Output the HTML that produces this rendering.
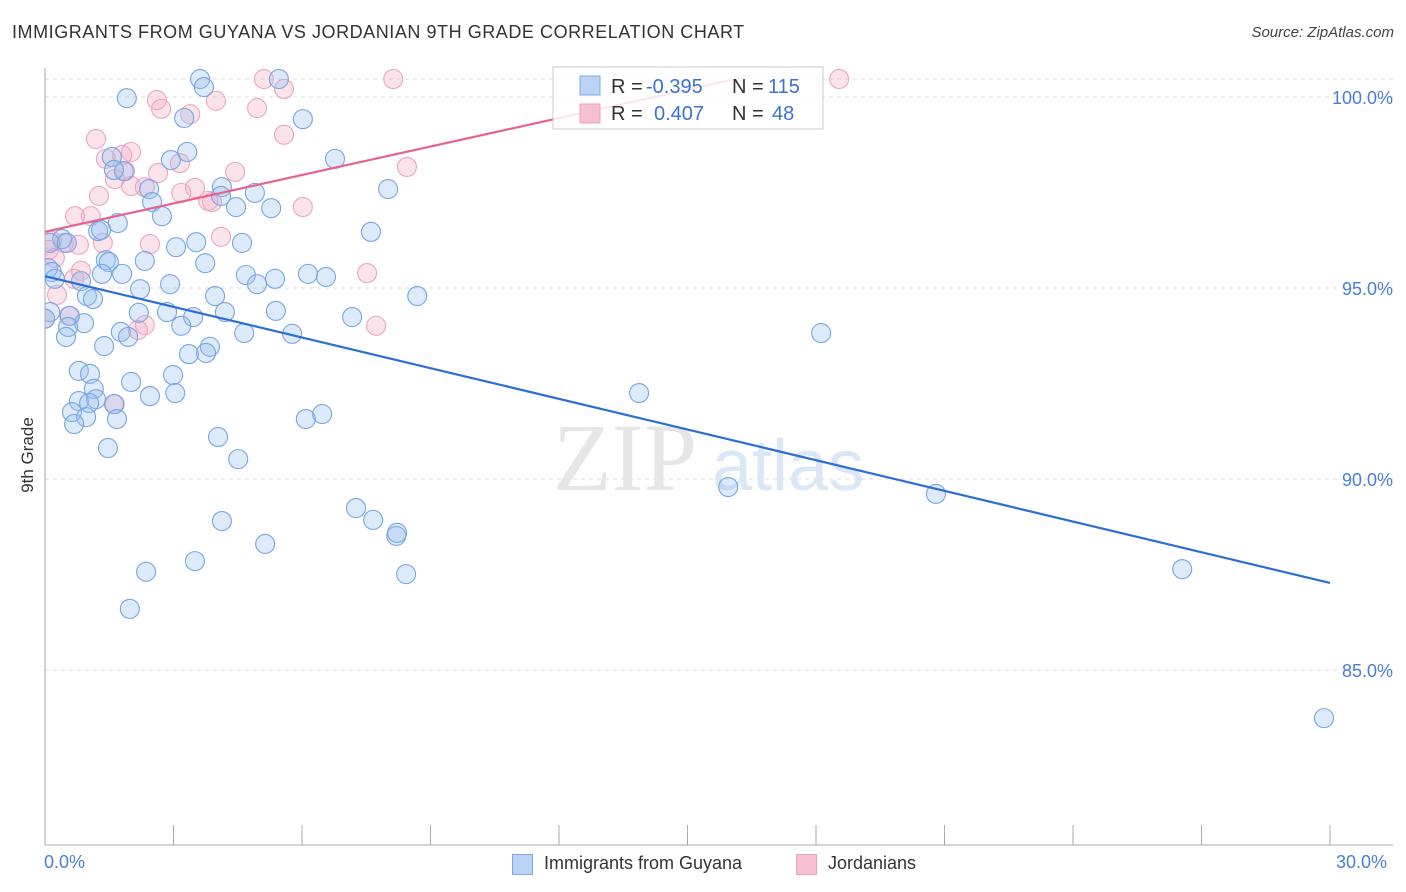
<!DOCTYPE html>
<html><head><meta charset="utf-8">
<style>
body{margin:0;background:#fff;font-family:"Liberation Sans",sans-serif;}
#wrap{position:relative;width:1406px;height:892px;overflow:hidden;}
.t{position:absolute;white-space:nowrap;}
</style></head>
<body>
<div id="wrap">
<div class="t" style="left:12px;top:22px;font-size:18px;color:#333;letter-spacing:0.55px">IMMIGRANTS FROM GUYANA VS JORDANIAN 9TH GRADE CORRELATION CHART</div>
<div class="t" style="right:12px;top:24px;font-size:15px;color:#444;font-style:italic">Source: ZipAtlas.com</div>
<div class="t" style="left:-10px;top:445px;font-size:17px;color:#333;transform:rotate(-90deg);transform-origin:center">9th Grade</div>
<svg id="svg" width="1406" height="892" style="position:absolute;left:0;top:0"></svg>
</div>
<script>
const xTicksPct=[0,3,6,9,12,15,18,21,24,27,30];
const yTicks=[85,90,95,100];
const yTickLabels=["85.0%","90.0%","95.0%","100.0%"];
const blueX=[3.62,3.71,5.46,1.91,3.25,6.02,3.32,6.77,1.56,2.94,1.84,1.61,2.43,4.13,8.01,4.90,2.50,4.11,4.46,5.28,2.73,1.70,1.24,1.31,7.61,0.40,0.12,3.06,3.53,4.60,0.51,2.33,1.42,1.49,3.74,4.69,5.37,6.14,6.56,4.95,0.07,0.16,0.23,0.84,1.33,1.80,2.92,2.22,0.98,1.12,3.97,8.69,2.19,2.85,3.46,4.20,5.39,7.17,0.12,0.58,0.91,0.54,3.18,1.77,1.94,0.49,4.65,5.77,18.12,1.38,3.85,3.36,3.76,0.79,1.05,2.99,2.01,1.14,1.19,0.79,1.03,1.61,2.45,3.04,13.87,0.63,0.96,0.68,1.68,6.09,6.47,1.47,4.04,4.51,15.95,20.80,7.26,7.66,4.13,8.20,8.22,5.14,3.50,2.36,8.43,26.55,1.98,29.86,0.0];
const blueY=[100.47,100.26,100.47,99.97,99.45,99.42,98.56,98.38,98.43,98.35,98.06,98.09,97.59,97.64,97.59,97.49,97.25,97.41,97.12,97.09,96.88,96.70,96.49,96.52,96.47,96.28,96.18,96.07,96.20,96.18,96.18,95.71,95.73,95.68,95.65,95.34,95.24,95.37,95.29,95.10,95.52,95.42,95.24,95.18,95.37,95.37,95.10,94.97,94.79,94.71,94.79,94.79,94.35,94.37,94.24,94.37,94.40,94.24,94.37,94.27,94.08,93.98,94.01,93.85,93.72,93.72,93.82,93.80,93.82,93.48,93.46,93.27,93.30,92.83,92.75,92.72,92.54,92.36,92.09,92.04,91.99,91.96,92.17,92.25,92.25,91.75,91.62,91.44,91.57,91.57,91.70,90.81,91.10,90.52,89.79,89.61,89.24,88.93,88.90,88.51,88.59,88.30,87.85,87.57,87.51,87.64,86.60,83.74,94.2];
const pinkX=[8.13,5.11,18.54,5.58,2.61,2.71,3.99,4.95,3.39,1.19,5.58,1.42,2.01,1.80,3.15,8.45,1.63,1.87,2.64,4.44,1.26,2.01,2.33,3.18,3.50,3.90,3.81,6.02,0.70,1.07,4.11,0.16,0.44,1.35,2.45,0.79,0.09,0.23,0.84,7.52,0.68,0.28,0.56,7.73,2.33,2.17,1.63,0.0];
const pinkY=[100.47,100.47,100.47,100.21,99.92,99.69,99.90,99.71,99.55,98.90,99.01,98.38,98.56,98.48,98.27,98.17,97.85,98.06,98.01,98.04,97.41,97.67,97.64,97.49,97.62,97.25,97.28,97.12,96.88,96.88,96.34,96.23,96.18,96.18,96.15,96.13,96.0,95.79,95.45,95.39,95.24,94.82,94.27,94.01,94.03,93.90,91.96,94.19];
const blueLine=[[0,95.31],[30,87.28]];
const pinkLine=[[0,96.47],[16.2,100.49]];

const X0=45,X1=1330,Y0=845,YTOP=68;
const sx=v=>X0+(v/30)*(X1-X0);
const sy=v=>97+(100-v)*38.2;
const svg=document.getElementById('svg');
const NS='http://www.w3.org/2000/svg';
function mk(tag,attrs,parent){const e=document.createElementNS(NS,tag);for(const k in attrs)e.setAttribute(k,attrs[k]);(parent||svg).appendChild(e);return e;}
const defs=mk('defs',{});
const cp=mk('clipPath',{id:'clip'},defs);
mk('rect',{x:X0,y:YTOP,width:1393-X0,height:Y0-YTOP},cp);

[...yTicks,100.47].forEach(v=>{
  const g=mk('line',{x1:X0,x2:1393,y1:sy(v),y2:sy(v),stroke:'#dcdcdc','stroke-dasharray':'4,4','stroke-width':1});
  
  
});
yTicks.forEach((v,i)=>{
  const t=mk('text',{x:1393,y:sy(v)+7,'text-anchor':'end','font-size':18,fill:'#4a7fd4','font-family':'Liberation Sans'});
  t.textContent=yTickLabels[i];
  
  
});
const ax=mk('line',{x1:X0,x2:1393,y1:Y0,y2:Y0,stroke:'#aaa','stroke-width':1});


const ay=mk('line',{x1:X0,x2:X0,y1:YTOP,y2:Y0,stroke:'#aaa','stroke-width':1});


xTicksPct.forEach(v=>{
  const t=mk('line',{x1:sx(v),x2:sx(v),y1:Y0,y2:Y0-20,stroke:'#aaa','stroke-width':1});
  
  
});
const wm=mk('text',{x:553,y:490,'font-size':96,fill:'#e6e6e6','font-family':'Liberation Serif'});
wm.textContent='ZIP';


const wm2=mk('text',{x:712,y:490,'font-size':72,fill:'#dbe7f6','font-family':'Liberation Sans'});
wm2.textContent='atlas';



const g=mk('g',{'clip-path':'url(#clip)'});
pinkX.forEach((x,i)=>{
  const c=mk('circle',{cx:sx(x),cy:sy(pinkY[i]),r:9.5,fill:'rgba(244,168,196,0.32)',stroke:'#eca6c0','stroke-width':1.1},g);
  
  
});
blueX.forEach((x,i)=>{
  const c=mk('circle',{cx:sx(x),cy:sy(blueY[i]),r:9.5,fill:'rgba(150,190,240,0.32)',stroke:'#78a5e4','stroke-width':1.1},g);
  
  
});
const bl=mk('line',{x1:sx(blueLine[0][0]),y1:sy(blueLine[0][1]),x2:sx(blueLine[1][0]),y2:sy(blueLine[1][1]),stroke:'#2b6fd6','stroke-width':2.2});


const pl=mk('line',{x1:sx(pinkLine[0][0]),y1:sy(pinkLine[0][1]),x2:sx(pinkLine[1][0]),y2:sy(pinkLine[1][1]),stroke:'#e8628e','stroke-width':2.2});



const lg=mk('g',{});


mk('rect',{x:553,y:67,width:270,height:62,fill:'rgba(255,255,255,0.85)',stroke:'#ccc','stroke-width':1},lg);
mk('rect',{x:580,y:76,width:20,height:19,fill:'#bcd4f4',stroke:'#7fa8e4'},lg);
mk('rect',{x:580,y:104,width:20,height:19,fill:'#f7c0d2',stroke:'#eea2bd'},lg);
function lt(x,y,s,col,name){const t=mk('text',{x:x,y:y,'font-size':20,fill:col,'font-family':'Liberation Sans'},lg);t.textContent=s;}
lt(611,93,'R =','#333','legend-r-label');
lt(646,93,'-0.395','#3a73d0','legend-r-guyana');
lt(732,93,'N =','#333','legend-n-label');
lt(768,93,'115','#3a73d0','legend-n-guyana');
lt(611,120,'R =','#333','legend-r-label');
lt(654,120,'0.407','#3a73d0','legend-r-jordanians');
lt(732,120,'N =','#333','legend-n-label');
lt(772,120,'48','#3a73d0','legend-n-jordanians');
</script>
<div class="t" style="left:44px;top:852px;font-size:18px;color:#4a7fd4">0.0%</div>
<div class="t" style="left:1336px;top:852px;font-size:18px;color:#4a7fd4">30.0%</div>
<div style="position:absolute;left:512px;top:853px;font-size:18px;color:#333">
  <span style="position:absolute;left:0;top:1px;width:19px;height:19px;background:#bcd4f4;border:1px solid #7fa8e4"></span>
  <span class="t" style="left:32px;top:0">Immigrants from Guyana</span>
  <span style="position:absolute;left:284px;top:1px;width:19px;height:19px;background:#f7c0d2;border:1px solid #eea2bd"></span>
  <span class="t" style="left:316px;top:0">Jordanians</span>
</div>
</body></html>
